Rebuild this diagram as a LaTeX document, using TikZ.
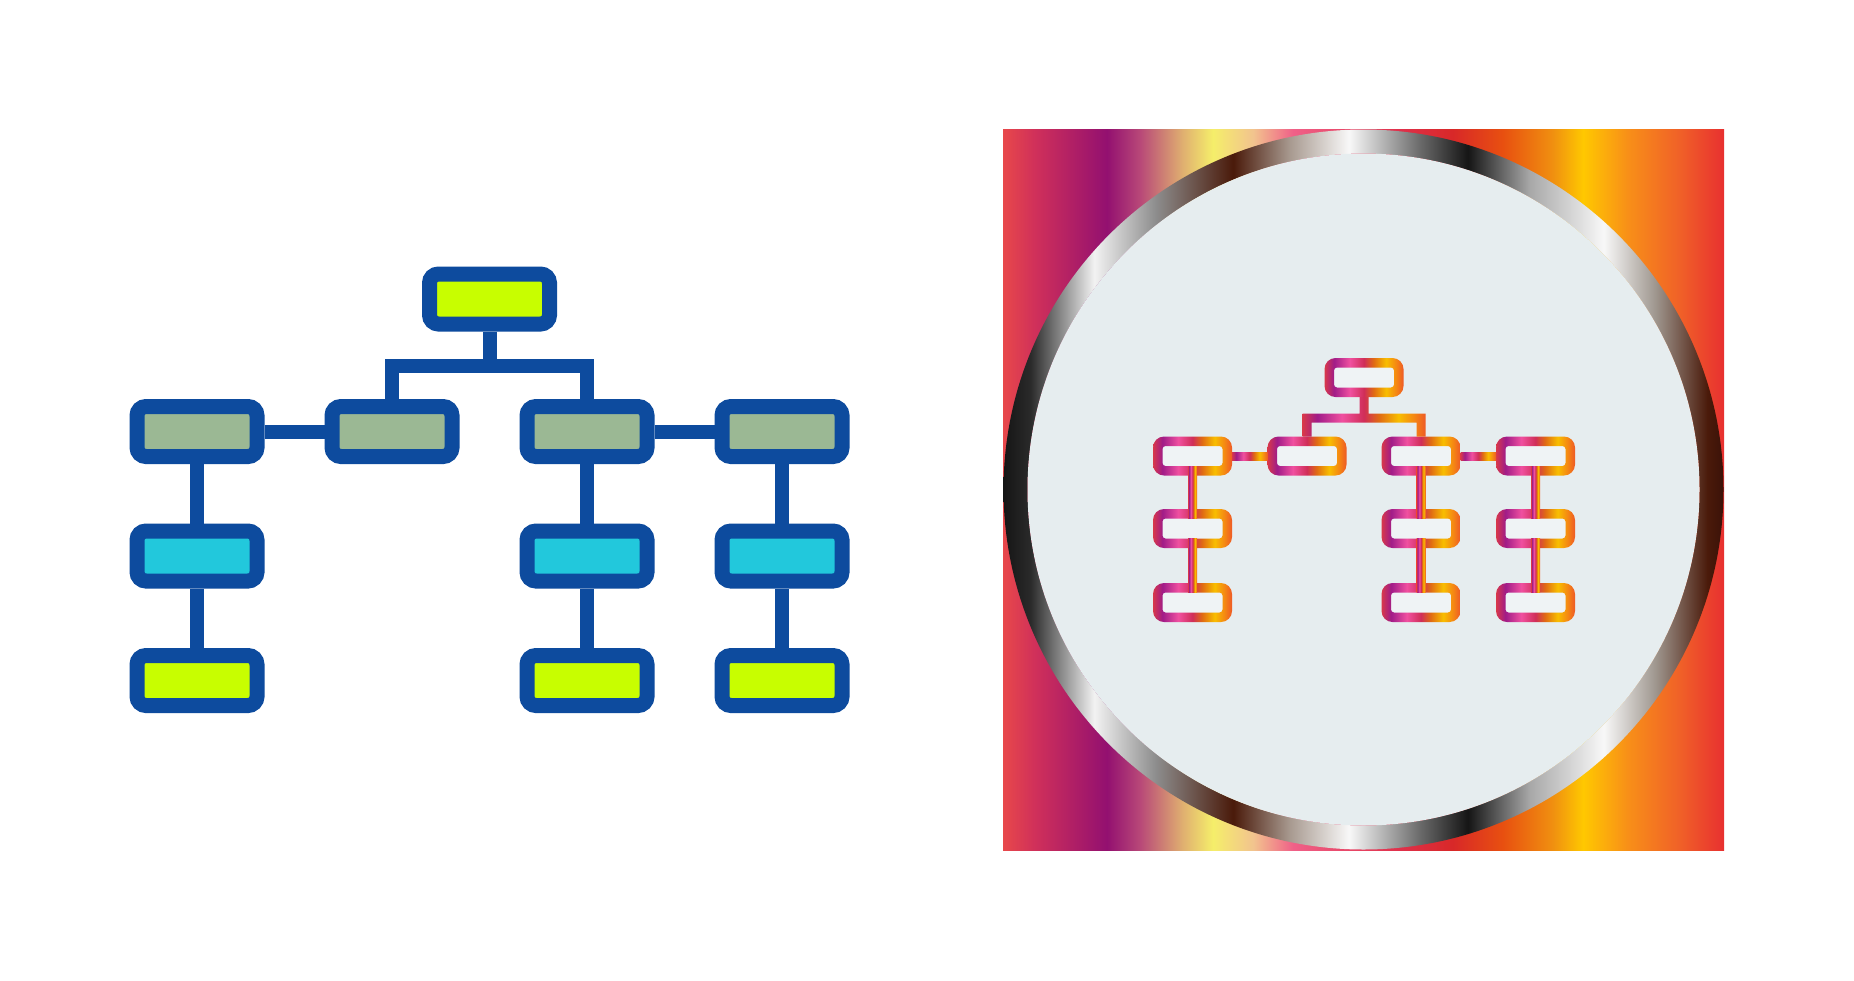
\documentclass[tikz,border=0pt]{standalone}

\definecolor{oblue}{RGB}{13,75,158}
\definecolor{olime}{RGB}{200,254,0}
\definecolor{osage}{RGB}{155,184,148}
\definecolor{ocyan}{RGB}{34,200,220}
\definecolor{cback}{HTML}{E6EDEF}
\definecolor{cwhite}{HTML}{EFF3F5}

% panel colours
\definecolor{pa}{HTML}{E8484A}\definecolor{pb}{HTML}{D0305A}
\definecolor{pc}{HTML}{931070}\definecolor{pd}{HTML}{B84878}
\definecolor{pe}{HTML}{E0B070}\definecolor{pf}{HTML}{F5EE6A}
\definecolor{pg}{HTML}{F2C48E}\definecolor{ph}{HTML}{F06088}
\definecolor{pi}{HTML}{E0304A}\definecolor{pj}{HTML}{D82828}
\definecolor{pk}{HTML}{E85010}\definecolor{pl}{HTML}{F09010}
\definecolor{pm}{HTML}{FFC800}\definecolor{pn}{HTML}{F89018}
\definecolor{po}{HTML}{F06028}\definecolor{pp}{HTML}{E83030}
% ring colours
\definecolor{ga}{HTML}{151515}\definecolor{gb}{HTML}{2A2A2A}
\definecolor{gc}{HTML}{F2F2F2}\definecolor{gd}{HTML}{8C8C8C}
\definecolor{ge}{HTML}{4A1A0A}\definecolor{gf}{HTML}{A89A90}
\definecolor{gg}{HTML}{F8F8F8}\definecolor{gh}{HTML}{6A6A6A}
\definecolor{gi}{HTML}{151515}\definecolor{gj}{HTML}{A8A8A8}
\definecolor{gk}{HTML}{F8F8F8}\definecolor{gl}{HTML}{A09890}
\definecolor{gm}{HTML}{4A1A0A}\definecolor{gn}{HTML}{3A1208}
% chain colours
\definecolor{ca}{HTML}{D8384A}\definecolor{cb}{HTML}{A01C88}
\definecolor{cc}{HTML}{F050A0}\definecolor{cd}{HTML}{D02E58}
\definecolor{ce}{HTML}{E06A14}\definecolor{cf}{HTML}{F8BE00}
\definecolor{cg}{HTML}{F58A12}\definecolor{ch}{HTML}{EE5A26}

\pgfdeclarehorizontalshading{panel}{100bp}{color(0bp)=(pa); color(25bp)=(pa);
  color(27.22bp)=(pb); color(32.21bp)=(pc); color(34.5bp)=(pd); color(37.48bp)=(pe);
  color(39.56bp)=(pf); color(42.34bp)=(pg); color(45.11bp)=(ph); color(52.53bp)=(pi);
  color(56.21bp)=(pj); color(59.67bp)=(pk); color(63.14bp)=(pl); color(65.22bp)=(pm);
  color(68.27bp)=(pn); color(71.95bp)=(po); color(75bp)=(pp); color(100bp)=(pp)}
\pgfdeclarehorizontalshading{ring}{100bp}{color(0bp)=(ga); color(25bp)=(ga);
  color(26.87bp)=(gb); color(31.31bp)=(gc); color(35.61bp)=(gd); color(40.95bp)=(ge);
  color(44.9bp)=(gf); color(48.99bp)=(gg); color(53.92bp)=(gh); color(57.25bp)=(gi);
  color(61.55bp)=(gj); color(66.68bp)=(gk); color(70.22bp)=(gl); color(73.89bp)=(gm);
  color(75bp)=(gn); color(100bp)=(gn)}
\pgfdeclarehorizontalshading{chain}{100bp}{color(0bp)=(ca); color(25bp)=(ca);
  color(31bp)=(cb); color(41bp)=(cc); color(50bp)=(cd); color(56bp)=(ce);
  color(64bp)=(cf); color(70bp)=(cg); color(75bp)=(ch); color(100bp)=(ch)}

\begin{document}
\begin{tikzpicture}[x=0.1mm, y=-0.1mm,
  obox/.style={draw=oblue, line width=1.5mm, rounded corners=0.9mm,
    minimum width=12mm, minimum height=5mm, inner sep=0pt},
  olink/.style={draw=oblue, line width=1.4mm},
  cbox/.style={minimum width=7.9mm, minimum height=3.9mm, inner sep=0pt, outer sep=0pt},
  cin/.style={fill=cwhite, rounded corners=0.3mm, minimum width=6mm,
    minimum height=2mm, inner sep=0pt, outer sep=0pt}]

	\useasboundingbox[fill=white] (0,0) rectangle (1854,980);

	% left chart
	\node[obox, fill=olime] (top) at (489.5,299) {};
	\foreach \n/\x in {b1/197, b2/392, b3/587, b4/782}
		\node[obox, fill=osage] (\n) at (\x,431.5) {};
	\foreach \n/\x in {c1/197, c3/587, c4/782}
		\node[obox, fill=ocyan] (\n) at (\x,556) {};
	\foreach \n/\x in {d1/197, d3/587, d4/782}
		\node[obox, fill=olime] (\n) at (\x,680.5) {};

	\coordinate (brk) at (489.5,366);
	\draw[olink] (top.south) -- (brk);
	\draw[olink] (b2.north) |- (brk) -| (b3.north);
	\draw[olink] (b1.east) -- (b2.west);
	\draw[olink] (b3.east) -- (b4.west);
	\foreach \p/\q in {b1/c1, c1/d1, b3/c3, c3/d3, b4/c4, c4/d4}
		\draw[olink] (\p.south) -- (\q.north);

	% right panel
	\shade[shading=panel] (1003,129) rectangle (1724,850);
	\coordinate (ctr) at (1363.5,489.5);
	\shade[shading=ring, even odd rule] (ctr) circle [radius=36mm] (ctr) circle [radius=33.6mm];
	\fill[cback] (ctr) circle [radius=33.6mm];

	% right chart
	\foreach \n/\x/\y in {rt/1364/377.5, r1/1192.5/456, r2/1307/456, r3/1421/456,
	  r4/1535.5/456, s1/1192.5/528.5, s3/1421/528.5, s4/1535.5/528.5,
	  t1/1192.5/602.5, t3/1421/602.5, t4/1535.5/602.5} {
		\node[cbox] (\n) at (\x,\y) {};
		\node[cin] (\n-i) at (\x,\y) {};
		\shade[shading=chain, even odd rule, rounded corners=1.1mm]
		  (\n.south west) rectangle (\n.north east)
		  [rounded corners=0.3mm] (\n-i.south west) rectangle (\n-i.north east);
	}

	\coordinate (rbrk) at (1364,418);
	\coordinate (rbl) at (r2.north |- rbrk);
	\coordinate (rbr) at (r3.north |- rbrk);
	\shade[shading=chain]
	  ([xshift=-0.45mm,yshift=-0.45mm]rbrk) rectangle ([xshift=0.45mm]rt.south)
	  ([xshift=-0.45mm,yshift=-0.45mm]rbl) rectangle ([xshift=0.45mm,yshift=0.45mm]rbr)
	  ([xshift=-0.45mm]r2.north) rectangle ([xshift=0.45mm]rbl)
	  ([xshift=-0.45mm]r3.north) rectangle ([xshift=0.45mm]rbr);
	\shade[shading=chain] ([yshift=-0.4mm]r1.east) rectangle ([yshift=0.4mm]r2.west);
	\shade[shading=chain] ([yshift=-0.4mm]r3.east) rectangle ([yshift=0.4mm]r4.west);
	\foreach \p/\q in {r1/s1, s1/t1, r3/s3, s3/t3, r4/s4, s4/t4}
		\shade[shading=chain] ([xshift=-0.45mm]\q-i.north) rectangle ([xshift=0.45mm]\p-i.south);
\end{tikzpicture}
\end{document}
